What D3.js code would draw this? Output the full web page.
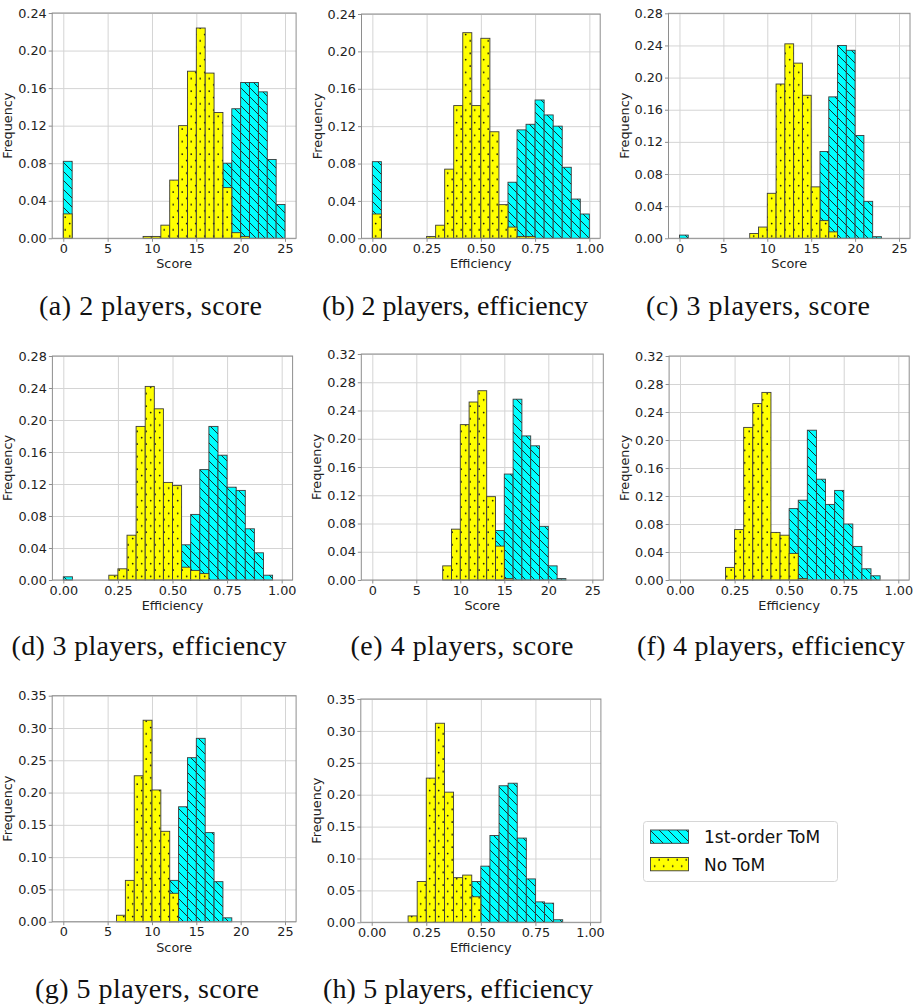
<!DOCTYPE html>
<html>
<head>
<meta charset="utf-8">
<script src="https://cdn.jsdelivr.net/npm/d3@7"></script>
<style>
  body { margin: 0; background: #fff; }
  svg { display: block; }
</style>
</head>
<body>
<svg id="chart" width="917" height="1005"></svg>
<script>
// bin heights (score: 25 bins of width 1, efficiency: 24 bins of width 1/24)
const score2NoTom = [0.026,0,0,0,0,0,0,0,0,0.002,0.002,0.014,0.062,0.12,0.178,0.224,0.176,0.134,0.054,0.006,0.002,0,0,0,0];
const score2Tom   = [0.082,0,0,0,0,0,0,0,0,0,0,0,0,0,0,0,0,0,0.08,0.138,0.166,0.166,0.156,0.084,0.036];
const eff2NoTom   = [0.026,0,0,0,0,0,0.002,0.014,0.074,0.142,0.22,0.142,0.214,0.114,0.036,0.012,0.002,0.002,0,0,0,0,0,0];
const eff2Tom     = [0.082,0,0,0,0,0,0,0,0,0,0,0,0,0,0,0.06,0.116,0.122,0.148,0.132,0.12,0.076,0.042,0.026];

const score3NoTom = [0,0,0,0,0,0,0,0,0.006,0.014,0.056,0.192,0.242,0.218,0.178,0.064,0.022,0.008,0,0,0,0,0,0,0];
const score3Tom   = [0.004,0,0,0,0,0,0,0,0,0,0,0,0,0,0,0,0.108,0.176,0.24,0.234,0.128,0.046,0.002,0,0];
const eff3NoTom   = [0,0,0,0,0,0.006,0.014,0.056,0.192,0.242,0.214,0.122,0.118,0.016,0.012,0.008,0,0,0,0,0,0,0,0];
const eff3Tom     = [0.004,0,0,0,0,0,0,0,0,0,0,0,0,0.044,0.082,0.138,0.192,0.156,0.116,0.112,0.064,0.034,0.006,0];

const score4NoTom = [0,0,0,0,0,0,0,0,0.02,0.072,0.22,0.252,0.268,0.118,0.048,0.002,0,0,0,0,0,0,0,0,0];
const score4Tom   = [0,0,0,0,0,0,0,0,0,0,0,0,0,0,0.07,0.15,0.256,0.204,0.19,0.076,0.02,0.002,0,0,0];
const eff4NoTom   = [0,0,0,0,0,0.018,0.072,0.218,0.252,0.268,0.068,0.064,0.038,0.002,0,0,0,0,0,0,0,0,0,0];
const eff4Tom     = [0,0,0,0,0,0,0,0,0,0,0,0,0.102,0.114,0.214,0.144,0.108,0.128,0.08,0.048,0.016,0.006,0,0];

const score5NoTom = [0,0,0,0,0,0,0.01,0.064,0.226,0.312,0.204,0.14,0.044,0,0,0,0,0,0,0,0,0,0,0,0];
const score5Tom   = [0,0,0,0,0,0,0,0,0,0,0,0,0.064,0.178,0.254,0.284,0.138,0.062,0.006,0,0,0,0,0,0];
const eff5NoTom   = [0,0,0,0,0.01,0.064,0.226,0.312,0.204,0.07,0.074,0.04,0,0,0,0,0,0,0,0,0,0,0,0];
const eff5Tom     = [0,0,0,0,0,0,0,0,0,0,0,0.064,0.088,0.136,0.214,0.218,0.132,0.068,0.032,0.03,0.004,0,0,0];

const scoreTicks = [0, 5, 10, 15, 20, 25];
const effTicks = [0, 0.25, 0.5, 0.75, 1];
const seriesNames = ["1st-order ToM", "No ToM"];
const captions = ["(a) 2 players, score", "(b) 2 players, efficiency", "(c) 3 players, score",
  "(d) 3 players, efficiency", "(e) 4 players, score", "(f) 4 players, efficiency",
  "(g) 5 players, score", "(h) 5 players, efficiency"];

const kinds = {
  score: { domain: [-1.25, 26.25], lo: 0, hi: 25, n: 25, ticks: scoreTicks, fmt: d3.format("d"), label: "Score" },
  eff:   { domain: [-0.05, 1.05], lo: 0, hi: 1, n: 24, ticks: effTicks, fmt: d3.format(".2f"), label: "Efficiency" }
};

// frame = [left, right, top, bottom]; cap = [centerX, baseline, width]
const panels = [
  { kind: "score", ymax: 0.24, ystep: 0.04, tom: score2Tom, noTom: score2NoTom, frame: [52.2, 296.1, 13, 238.3], cap: [150.5, 315, 223] },
  { kind: "eff",   ymax: 0.24, ystep: 0.04, tom: eff2Tom,   noTom: eff2NoTom,   frame: [361.5, 600.2, 14, 238.3], cap: [455, 315, 266] },
  { kind: "score", ymax: 0.28, ystep: 0.04, tom: score3Tom, noTom: score3NoTom, frame: [668.5, 910, 13.3, 238.3], cap: [758, 315, 224] },
  { kind: "eff",   ymax: 0.28, ystep: 0.04, tom: eff3Tom,   noTom: eff3NoTom,   frame: [52.4, 292.6, 356, 580], cap: [149, 655, 275] },
  { kind: "score", ymax: 0.32, ystep: 0.04, tom: score4Tom, noTom: score4NoTom, frame: [361.3, 603.3, 354, 580], cap: [462, 655, 223] },
  { kind: "eff",   ymax: 0.32, ystep: 0.04, tom: eff4Tom,   noTom: eff4NoTom,   frame: [669.1, 909.2, 356, 580], cap: [771, 655, 268] },
  { kind: "score", ymax: 0.35, ystep: 0.05, tom: score5Tom, noTom: score5NoTom, frame: [52.2, 296.1, 695.7, 921.7], cap: [147, 998, 224] },
  { kind: "eff",   ymax: 0.35, ystep: 0.05, tom: eff5Tom,   noTom: eff5NoTom,   frame: [360.8, 600.9, 699, 922.3], cap: [458, 998, 270] }
];

const cyan = "#00ffff", yellow = "#ffff00";
const edge = "#3a3a3a";
const gridColor = "#d4d4d4", frameColor = "#8e8e8e";
const sans = "'DejaVu Sans', sans-serif";

const svg = d3.select("#chart");
const defs = svg.append("defs");

// matplotlib-like hatches: "\\" for ToM, "." for no ToM
const hatch = defs.append("pattern")
    .attr("id", "hatchTom")
    .attr("patternUnits", "userSpaceOnUse")
    .attr("width", 9).attr("height", 9);
hatch.append("rect").attr("width", 9).attr("height", 9).attr("fill", cyan);
hatch.append("path")
    .attr("d", "M0,0L9,9M-1,8L1,10M8,-1L10,1")
    .attr("stroke", "#1a1a1a").attr("stroke-width", 0.9);

const dots = defs.append("pattern")
    .attr("id", "hatchNo")
    .attr("patternUnits", "userSpaceOnUse")
    .attr("width", 9).attr("height", 12.6);
dots.append("rect").attr("width", 9).attr("height", 12.6).attr("fill", yellow);
dots.append("circle").attr("cx", 2.2).attr("cy", 3).attr("r", 0.9).attr("fill", "#111");
dots.append("circle").attr("cx", 6.7).attr("cy", 9.3).attr("r", 0.9).attr("fill", "#111");

panels.forEach((p, k) => {
  const kd = kinds[p.kind];
  const [x0, x1, yt, yb] = p.frame;
  const x = d3.scaleLinear().domain(kd.domain).range([x0, x1]);
  const y = d3.scaleLinear().domain([0, p.ymax]).range([yb, yt]);
  const yTicks = d3.range(0, p.ymax + 1e-9, p.ystep);
  const w = (kd.hi - kd.lo) / kd.n;

  const g = svg.append("g");

  // grid
  g.append("g")
      .attr("transform", `translate(0,${yb})`)
      .call(d3.axisBottom(x).tickValues(kd.ticks).tickSize(-(yb - yt)).tickFormat(""))
      .call(a => a.select(".domain").remove())
      .call(a => a.selectAll(".tick line").attr("stroke", gridColor).attr("stroke-width", 1));
  g.append("g")
      .attr("transform", `translate(${x0},0)`)
      .call(d3.axisLeft(y).tickValues(yTicks).tickSize(-(x1 - x0)).tickFormat(""))
      .call(a => a.select(".domain").remove())
      .call(a => a.selectAll(".tick line").attr("stroke", gridColor).attr("stroke-width", 1));

  // bars: ToM first, then no ToM on top
  [[p.tom, "url(#hatchTom)"], [p.noTom, "url(#hatchNo)"]].forEach(([vals, fill]) => {
    g.append("g").selectAll("rect")
      .data(vals)
      .join("rect")
        .attr("x", (d, i) => x(kd.lo + i * w))
        .attr("width", (d, i) => x(kd.lo + (i + 1) * w) - x(kd.lo + i * w))
        .attr("y", d => y(d))
        .attr("height", d => y(0) - y(d))
        .attr("fill", fill)
        .attr("stroke", edge)
        .attr("stroke-width", 0.9);
  });

  // frame
  g.append("rect")
      .attr("x", x0).attr("y", yt)
      .attr("width", x1 - x0).attr("height", yb - yt)
      .attr("fill", "none").attr("stroke", frameColor).attr("stroke-width", 1);

  // tick labels
  g.append("g")
      .attr("transform", `translate(0,${yb})`)
      .call(d3.axisBottom(x).tickValues(kd.ticks).tickSize(3.5).tickPadding(2).tickFormat(kd.fmt))
      .call(a => a.select(".domain").remove())
      .call(a => a.selectAll(".tick line").attr("stroke", frameColor))
      .call(a => a.selectAll("text").attr("fill", "#222").style("font", `12.8px ${sans}`));
  g.append("g")
      .attr("transform", `translate(${x0},0)`)
      .call(d3.axisLeft(y).tickValues(yTicks).tickSize(3.5).tickPadding(2).tickFormat(d3.format(".2f")))
      .call(a => a.select(".domain").remove())
      .call(a => a.selectAll(".tick line").attr("stroke", frameColor))
      .call(a => a.selectAll("text").attr("fill", "#222").style("font", `12.8px ${sans}`));

  // axis labels
  g.append("text")
      .attr("x", (x0 + x1) / 2).attr("y", yb + 30)
      .attr("text-anchor", "middle")
      .style("font", `12.8px ${sans}`).attr("fill", "#222")
      .text(kd.label);
  g.append("text")
      .attr("transform", `translate(${x0 - 40},${(yt + yb) / 2}) rotate(-90)`)
      .attr("text-anchor", "middle")
      .style("font", `12.8px ${sans}`).attr("fill", "#222")
      .text("Frequency");

  // caption
  svg.append("text")
      .attr("x", p.cap[0]).attr("y", p.cap[1])
      .attr("text-anchor", "middle")
      .attr("textLength", p.cap[2]).attr("lengthAdjust", "spacing")
      .style("font", "28px 'Liberation Serif', serif").attr("fill", "#111")
      .text(captions[k]);
});

// legend
const leg = svg.append("g");
leg.append("rect")
    .attr("x", 643.5).attr("y", 821.5).attr("width", 194).attr("height", 60).attr("rx", 3)
    .attr("fill", "#fff").attr("stroke", "#d6d6d6").attr("stroke-width", 1);
[["url(#hatchTom)", 830], ["url(#hatchNo)", 857.5]].forEach(([fill, yy], i) => {
  leg.append("rect")
      .attr("x", 650.5).attr("y", yy).attr("width", 38).attr("height", 13.3)
      .attr("fill", fill).attr("stroke", edge).attr("stroke-width", 0.9);
  leg.append("text")
      .attr("x", 704).attr("y", yy + 13)
      .style("font", `17px ${sans}`).attr("fill", "#111")
      .text(seriesNames[i]);
});
</script>
</body>
</html>
